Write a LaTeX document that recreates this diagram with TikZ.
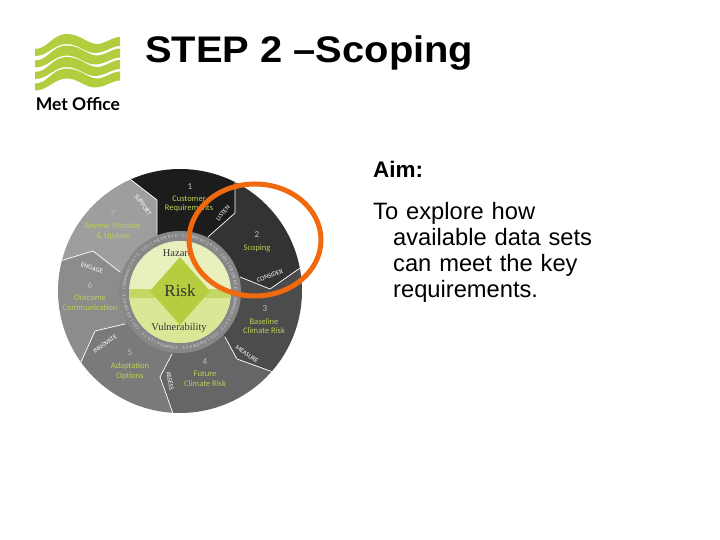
\documentclass[tikz,border=0pt]{standalone}
\usepackage{fontspec}
\setmainfont{Liberation Sans}
\newfontfamily\wheelfont{Carlito}
\newfontfamily\centrefont{Liberation Serif}
\newfontfamily\logofont{Lato}
\usepackage{xcolor}
\usepackage{tikz}
\usetikzlibrary{positioning}
\definecolor{LeafGreen}{RGB}{178,206,62}
\definecolor{LabelGreen}{RGB}{190,205,85}
\definecolor{PaleGreen}{RGB}{233,240,190}
\definecolor{MidGreen}{RGB}{218,231,150}
\definecolor{DeepGreen}{RGB}{181,205,62}
\definecolor{BandGreen}{RGB}{196,215,100}
\definecolor{RingGrey}{RGB}{135,135,135}
\definecolor{RingText}{RGB}{215,215,215}
\definecolor{CircleOrange}{RGB}{240,105,15}

\tikzset{
    titletext/.style={inner sep=0pt, anchor=base west, xscale=1.078, font=\bfseries\fontsize{37}{40}\selectfont},
    bodytext/.style={inner sep=0pt, anchor=north west, text width=235pt, font=\fontsize{23.7}{26}\selectfont},
    seclabel/.style={text=LabelGreen, align=center, inner sep=0pt, font=\wheelfont\fontsize{8.5}{9.7}\selectfont},
    secnum/.style={text=black!25, inner sep=0pt, font=\wheelfont\fontsize{9}{10}\selectfont},
    sectag/.style={text=white, inner sep=0pt, font=\wheelfont\fontsize{6.5}{7}\selectfont},
    midlabel/.style={text=black!80, inner sep=0pt, font=\centrefont\fontsize{10.5}{12}\selectfont},
    secedge/.style={draw=white, line width=0.7pt, line join=round}
}

\begin{document}
\begin{tikzpicture}[x=1pt, y=1pt]
    \useasboundingbox (0,0) rectangle (720,540);

    % logo
    \foreach \dy in {0,11.5,23,34.5} {
        \fill [LeafGreen, yshift=-\dy pt] (35,491) .. controls (48,491) and (52,506) .. (67,506)
            .. controls (80,506) and (88,496) .. (97,496) .. controls (105,496) and (112,503) .. (120,503)
            -- (120,494) .. controls (112,494) and (105,487) .. (95,487)
            .. controls (85,487) and (78,496) .. (67,496) .. controls (54,496) and (48,484) .. (35,484) -- cycle;
    }
    \node [inner sep=0pt, font=\logofont\bfseries\fontsize{17.5}{20}\selectfont] (logo) at (78,436) {Met Office};

    \node [titletext] (title) at (145,477) {STEP 2 –Scoping};
    \node [bodytext, font=\bfseries\fontsize{22.5}{26}\selectfont] (aim) at (373,379) {Aim:};
    \node [bodytext, below=24pt of aim.south west, anchor=north west] (aimtext) {To explore how\\\hspace*{20pt}available data sets\\\hspace*{20pt}can meet the key\\\hspace*{20pt}requirements.};

    \begin{scope}[shift={(180,249)}]
        % sectors
        \fill [black!89] (0,0) -- (-23,58) -- (-23,91) -- (113.9:122) arc[start angle=113.9, end angle=63.2, radius=122] -- (55,78) -- (28,54) -- cycle;
        \fill [black!80] (0,0) -- (28,54) -- (55,78) -- (63.2:122) arc[start angle=63.2, end angle=10.8, radius=122] -- (90,2) -- (60,14) -- cycle;
        \fill [black!70] (0,0) -- (60,14) -- (90,2) -- (10.8:122) arc[start angle=10.8, end angle=-41.3, radius=122] -- (57,-68) -- (45,-46) -- cycle;
        \fill [black!60] (0,0) -- (45,-46) -- (57,-68) -- (-41.3:122) arc[start angle=-41.3, end angle=-93.4, radius=122] -- (-20,-86) -- (-8,-63) -- cycle;
        \fill [black!52] (0,0) -- (-8,-63) -- (-20,-86) -- (-93.4:122) arc[start angle=-93.4, end angle=-144.3, radius=122] -- (-85,-40) -- (-55,-33) -- cycle;
        \fill [black!45] (0,0) -- (-55,-33) -- (-85,-40) -- (-144.3:122) arc[start angle=-144.3, end angle=-194.5, radius=122] -- (-87,40) -- (-60,19) -- cycle;
        \fill [black!38] (0,0) -- (-60,19) -- (-87,40) -- (165.5:122) arc[start angle=165.5, end angle=113.9, radius=122] -- (-23,91) -- (-23,58) -- cycle;

        % sector edges
        \draw [secedge] (-23,58) -- (-23,91) -- (113.9:122);
        \draw [secedge] (28,54) -- (55,78) -- (63.2:122);
        \draw [secedge] (60,14) -- (90,2) -- (10.8:122);
        \draw [secedge] (45,-46) -- (57,-68) -- (-41.3:122);
        \draw [secedge] (-8,-63) -- (-20,-86) -- (-93.4:122);
        \draw [secedge] (-55,-33) -- (-85,-40) -- (-144.3:122);
        \draw [secedge] (-60,19) -- (-87,40) -- (165.5:122);

        % centre
        \begin{scope}[yshift=-1pt]
            \fill [RingGrey] (0,0) circle [radius=61];
            \foreach \ch [count=\i] in {C,O,M,M,U,N,I,C,A,T,E,·,C,O,L,L,A,B,O,R,A,T,E,·,C,O,M,M,U,N,I,C,A,T,E,·,C,O,L,L,A,B,O,R,A,T,E,·,C,O,M,M,U,N,I,C,A,T,E,·,C,O,L,L,A,B,O,R,A,T,E,·,C,O,M,M,U,N,I,C,A,T,E,·,C,O,L,L,A,B,O,R,A,T,E,·}
                \node [text=RingText, inner sep=0pt, rotate=-3.75*\i, font=\wheelfont\fontsize{4.5}{5}\selectfont] at (90-3.75*\i:56) {\ch};
            \fill [PaleGreen] (0,0) circle [radius=51];
            \begin{scope}
                \clip (0,0) circle [radius=51];
                \fill [MidGreen] (-51,-51) rectangle (51,-6);
                \fill [BandGreen] (-51,-6) rectangle (51,3);
            \end{scope}
            \fill [DeepGreen] (0,35) -- (30,1) -- (0,-33) -- (-30,1) -- cycle;
            \node [midlabel] (hazard) at (-2,39) {Hazard};
            \node [midlabel] (vulnerability) at (-1,-36) {Vulnerability};
            \node [midlabel, font=\centrefont\fontsize{17}{18}\selectfont] (risk) at (0,1) {Risk};
        \end{scope}

        % sector labels
        \node [secnum] (num1) at (10,104) {1};
        \node [seclabel] (label1) at (9,87) {Customer\\Requirements};
        \node [secnum] (num2) at (77,56) {2};
        \node [seclabel] (label2) at (77,43) {Scoping};
        \node [secnum] (num3) at (85,-18) {3};
        \node [seclabel] (label3) at (84,-35) {Baseline\\Climate Risk};
        \node [secnum] (num4) at (25,-71) {4};
        \node [seclabel] (label4) at (25,-88) {Future\\Climate Risk};
        \node [secnum] (num5) at (-50,-62) {5};
        \node [seclabel] (label5) at (-50,-80) {Adaptation\\Options};
        \node [secnum] (num6) at (-90,5) {6};
        \node [seclabel] (label6) at (-90,-12) {Outcome\\Communication};
        \node [secnum] (num7) at (-67,77) {7};
        \node [seclabel] (label7) at (-67,60) {Review, Monitor\\\& Update};

        % tags
        \node [sectag, rotate=-55] (support) at (-37,86) {SUPPORT};
        \node [sectag, rotate=50] (listen) at (43,78) {LISTEN};
        \node [sectag, rotate=20] (consider) at (90,15) {CONSIDER};
        \node [sectag, rotate=-35] (measure) at (67,-63) {MEASURE};
        \node [sectag, rotate=-80] (assess) at (-10,-90) {ASSESS};
        \node [sectag, rotate=35] (innovate) at (-75,-53) {INNOVATE};
        \node [sectag, rotate=-18] (engage) at (-88,23) {ENGAGE};
    \end{scope}

    \draw [CircleOrange, line width=5pt] (255,300) ellipse [x radius=66, y radius=56];
\end{tikzpicture}
\end{document}
